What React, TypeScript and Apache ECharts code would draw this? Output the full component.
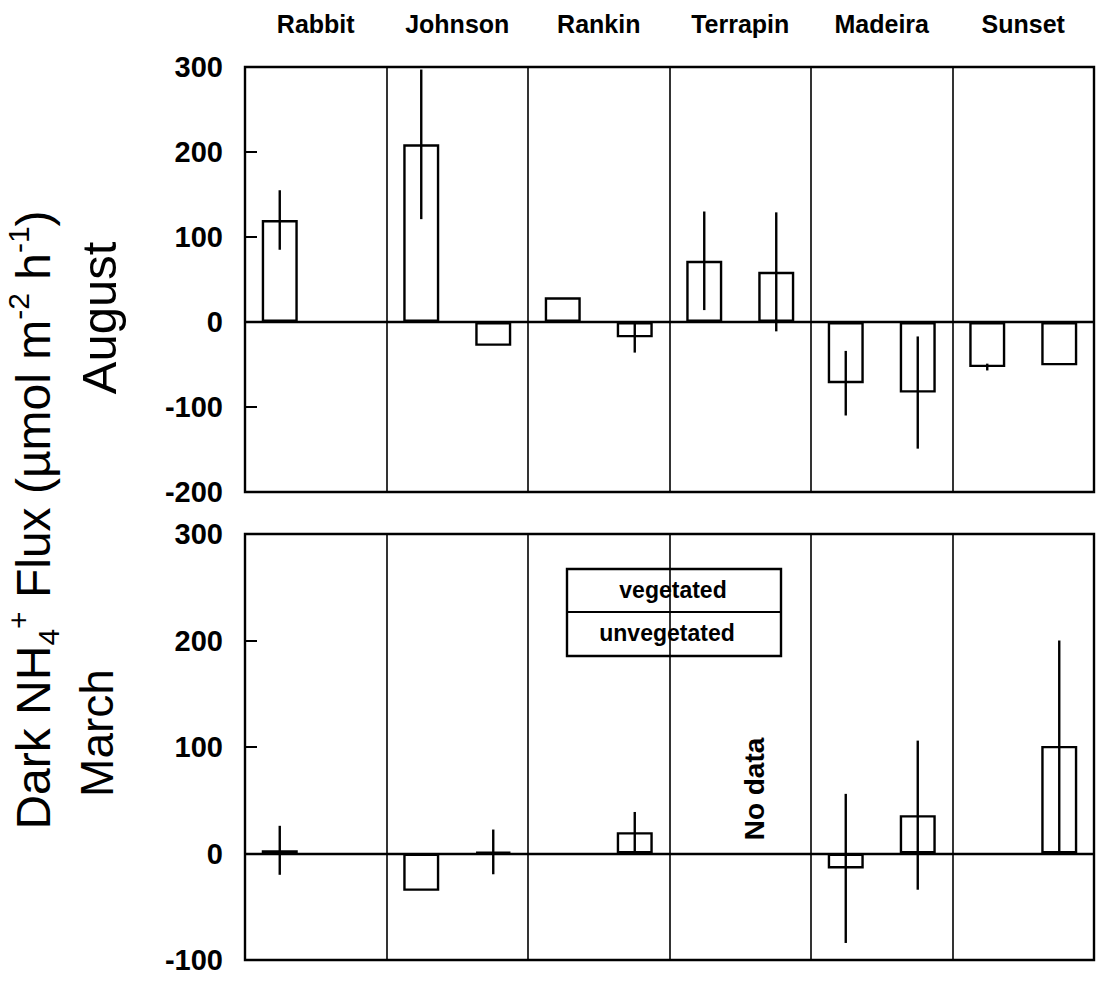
import React, { useEffect, useRef } from "react";
import * as echarts from "echarts";

const sites = ["Rabbit", "Johnson", "Rankin", "Terrapin", "Madeira", "Sunset"];

const augVeg = [120, 209, 29, 72, -72, -53];
const augVegErr = [35, 88, 0, 58, 38, 4];
const augUnveg = [null, -28, -18, 59, -83, -51];
const augUnvegErr = [0, 0, 18, 70, 66, 0];

const marVeg = [3, -35, null, null, -14, null];
const marVegErr = [23, 0, 0, 0, 70, 0];
const marUnveg = [null, 1.5, 20, null, 36, 101];
const marUnvegErr = [0, 21, 19, 0, 70, 99];

const augTicks = { min: -200, max: 300, interval: 100 };
const marTicks = { min: -100, max: 300, interval: 100 };

const FONT = 'Arial, "Liberation Sans", Helvetica, sans-serif';
const BAR_W = 36;

function errData(vals: (number | null)[], errs: number[]) {
  const out: any[] = [];
  vals.forEach((v, i) => {
    if (v !== null && errs[i] > 0) out.push([i, v, errs[i]]);
  });
  return out;
}

function errSeries(idx: number, vals: (number | null)[], errs: number[], side: number) {
  return {
    type: "custom",
    xAxisIndex: idx,
    yAxisIndex: idx,
    z: 5,
    silent: true,
    data: errData(vals, errs),
    renderItem: (params: any, api: any) => {
      const c = api.value(0);
      const v = api.value(1);
      const e = api.value(2);
      const x = api.coord([c, v])[0] + side * BAR_W;
      const y1 = api.coord([c, v + e])[1];
      const y2 = api.coord([c, v - e])[1];
      return {
        type: "line",
        shape: { x1: x, y1, x2: x, y2 },
        style: { stroke: "#000", lineWidth: 2.4 },
      };
    },
  };
}

function barSeries(idx: number, vals: (number | null)[], withZero: boolean) {
  const s: any = {
    type: "bar",
    xAxisIndex: idx,
    yAxisIndex: idx,
    barWidth: BAR_W,
    barGap: "100%",
    z: 3,
    data: vals.map((v) => (v === null ? "-" : v)),
    itemStyle: { color: "#fff", borderColor: "#000", borderWidth: 2.4 },
    silent: true,
  };
  if (withZero) {
    s.markLine = {
      silent: true,
      symbol: "none",
      label: { show: false },
      lineStyle: { color: "#000", width: 2.4, type: "solid" },
      data: [{ yAxis: 0 }],
      z: 2,
    };
  }
  return s;
}

function makeX(idx: number, showLabels: boolean) {
  return {
    type: "category",
    gridIndex: idx,
    data: sites,
    position: "top",
    boundaryGap: true,
    axisLine: { show: false },
    axisTick: { show: false },
    axisLabel: {
      show: showLabels,
      margin: 31,
      color: "#000",
      fontFamily: FONT,
      fontWeight: "bold",
      fontSize: 25,
    },
    splitLine: { show: true, interval: 0, lineStyle: { color: "#000", width: 1.6 } },
  };
}

function makeY(idx: number, t: { min: number; max: number; interval: number }) {
  return {
    type: "value",
    gridIndex: idx,
    min: t.min,
    max: t.max,
    interval: t.interval,
    axisLine: { show: false },
    axisTick: { show: true, inside: true, length: 12, lineStyle: { color: "#000", width: 2 } },
    splitLine: { show: false },
    axisLabel: {
      margin: 22,
      color: "#000",
      fontFamily: FONT,
      fontWeight: "bold",
      fontSize: 29,
    },
  };
}

export default function App() {
  const ref = useRef<HTMLDivElement>(null);
  useEffect(() => {
    document.body.style.margin = "0";
    if (!ref.current) return;
    const chart = echarts.init(ref.current, undefined, { renderer: "svg" });
    const option: any = {
      animation: false,
      backgroundColor: "#fff",
      grid: [
        { left: 245, top: 67, width: 849, height: 425, show: true, borderColor: "#000", borderWidth: 2.4, backgroundColor: "transparent" },
        { left: 245, top: 534, width: 849, height: 426, show: true, borderColor: "#000", borderWidth: 2.4, backgroundColor: "transparent" },
      ],
      xAxis: [makeX(0, true), makeX(1, false)],
      yAxis: [makeY(0, augTicks), makeY(1, marTicks)],
      series: [
        barSeries(0, augVeg, true),
        barSeries(0, augUnveg, false),
        errSeries(0, augVeg, augVegErr, -1),
        errSeries(0, augUnveg, augUnvegErr, 1),
        barSeries(1, marVeg, true),
        barSeries(1, marUnveg, false),
        errSeries(1, marVeg, marVegErr, -1),
        errSeries(1, marUnveg, marUnvegErr, 1),
      ],
      graphic: [
        {
          type: "text",
          x: 33,
          y: 520,
          rotation: Math.PI / 2,
          style: {
            text: "Dark NH{sub|4}{sup|+} Flux (µmol m{sup|-2} h{sup|-1})",
            font: `48px ${FONT}`,
            fill: "#000",
            align: "center",
            verticalAlign: "middle",
            lineHeight: 60,
            rich: {
              sub: { fontSize: 30, fontFamily: FONT, verticalAlign: "bottom", lineHeight: 60, fill: "#000" },
              sup: { fontSize: 30, fontFamily: FONT, verticalAlign: "top", lineHeight: 60, fill: "#000" },
            },
          },
        },
        {
          type: "text",
          x: 99,
          y: 318,
          rotation: Math.PI / 2,
          style: { text: "August", font: `49px ${FONT}`, fill: "#000", align: "center", verticalAlign: "middle" },
        },
        {
          type: "text",
          x: 97,
          y: 733,
          rotation: Math.PI / 2,
          style: { text: "March", font: `46px ${FONT}`, fill: "#000", align: "center", verticalAlign: "middle" },
        },
        {
          type: "text",
          x: 754,
          y: 789,
          rotation: Math.PI / 2,
          z: 10,
          style: { text: "No data", font: `bold 28px ${FONT}`, fill: "#000", align: "center", verticalAlign: "middle" },
        },
        {
          type: "group",
          z: 10,
          children: [
            { type: "rect", shape: { x: 567, y: 569, width: 214, height: 87 }, style: { fill: "#fff", stroke: "#000", lineWidth: 2.4 } },
            { type: "line", shape: { x1: 567, y1: 612, x2: 781, y2: 612 }, style: { stroke: "#000", lineWidth: 2.2 } },
            { type: "text", x: 673, y: 590, style: { text: "vegetated", font: `bold 23px ${FONT}`, fill: "#000", align: "center", verticalAlign: "middle" } },
            { type: "text", x: 667, y: 633, style: { text: "unvegetated", font: `bold 23px ${FONT}`, fill: "#000", align: "center", verticalAlign: "middle" } },
          ],
        },
      ],
    };
    chart.setOption(option);
    return () => chart.dispose();
  }, []);
  return <div ref={ref} style={{ width: 1096, height: 983 }} />;
}
